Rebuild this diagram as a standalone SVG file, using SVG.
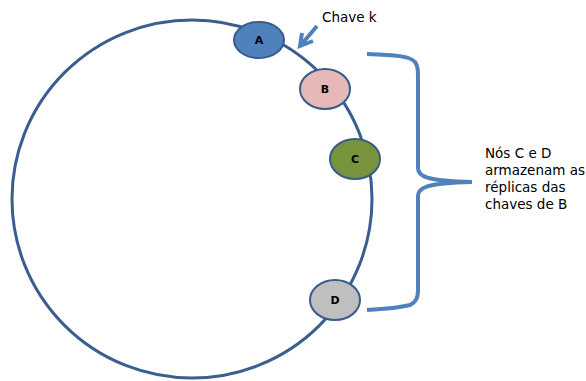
<svg xmlns="http://www.w3.org/2000/svg" width="586" height="381" viewBox="0 0 586 381">
<style>
.node{stroke:#385D8A;stroke-width:2}
.lbl{font-family:"DejaVu Sans",sans-serif;font-size:11px;font-weight:bold;fill:#000;text-anchor:middle}
.txt{font-family:"DejaVu Sans",sans-serif;font-size:13.5px;fill:#000}
.blue{fill:none;stroke:#4F81BD;stroke-width:4;stroke-linecap:butt;stroke-linejoin:miter}
</style>
<rect width="586" height="381" fill="#fff"/>
<g id="ring">
<ellipse cx="192" cy="199" rx="180" ry="179" fill="none" stroke="#3A5F8F" stroke-width="3"/>
</g>
<g id="connectors">
<path class="blue" d="M317,26 L301,45"/>
<path class="blue" d="M302,33 L300,46 L313,41"/>
<path class="blue" d="M367,54 C395,55 410,56 415,62 C418,66 418,70 418,80 L418,168 C418,176 425,181 472,182 C425,183 418,188 418,196 L418,290 C418,298 416,302 410,305 C398,308 385,309 367,310"/>
</g>
<g id="node-A"><ellipse class="node" cx="259" cy="40" rx="25" ry="18" fill="#4F81BD"/><text class="lbl" x="259" y="44">A</text></g>
<g id="node-B"><ellipse class="node" cx="325" cy="89" rx="25" ry="20" fill="#E6B9B8"/><text class="lbl" x="325" y="93">B</text></g>
<g id="node-C"><ellipse class="node" cx="355" cy="159" rx="25" ry="20" fill="#77933C"/><text class="lbl" x="355" y="163">C</text></g>
<g id="node-D"><ellipse class="node" cx="335" cy="300" rx="25" ry="20" fill="#BFBFBF"/><text class="lbl" x="335" y="304">D</text></g>
<g id="labels">
<text class="txt" x="322" y="22">Chave k</text>
<text class="txt" x="485" y="158">Nós C e D</text>
<text class="txt" x="485" y="175">armazenam as</text>
<text class="txt" x="485" y="192">réplicas das</text>
<text class="txt" x="485" y="209">chaves de B</text>
</g>
</svg>
